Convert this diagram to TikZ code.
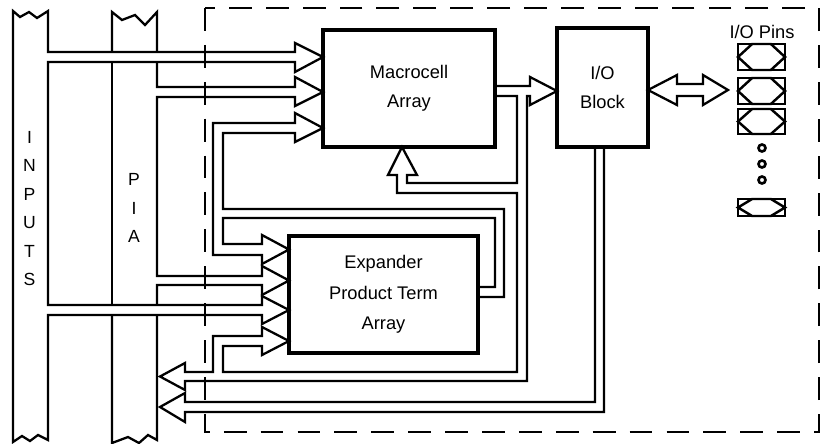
\documentclass[tikz,border=0pt]{standalone}
\usepackage{fontspec}
\setmainfont{Liberation Sans}
\usetikzlibrary{positioning}
\usetikzlibrary{calc}

\begin{document}
\begin{tikzpicture}[x=0.02cm,y=-0.02cm,line join=miter,
  bus/.style={line width=1.3pt},
  block/.style={draw,line width=2.3pt,outer sep=0pt,inner sep=0pt,align=center,font=\fontsize{10.4}{16.5}\selectfont},
  pin/.style={draw,line width=1.6pt,outer sep=0pt,inner sep=0pt,minimum width=0.94cm},
  pinline/.style={line width=1.4pt},
  iodot/.style={draw,circle,line width=1.5pt,inner sep=0pt,minimum size=0.14cm},
  letters/.style={align=center,font=\fontsize{10}{16.2}\selectfont,inner sep=0pt}]
  \useasboundingbox (0,0) rectangle (825,443);

  \draw[line width=1.2pt,dash pattern=on 13pt off 8pt] (205,8) rectangle (819,432);

  \node[letters] (inputs) at (29.5,208.5) {I\\N\\P\\U\\T\\S};
  \node[letters] (pia) at (134,208) {P\\I\\A};

  \draw[bus] (48,11) -- (37,18) -- (29,12) -- (20,17) -- (13,11) -- (13,442) -- (22,436) -- (30,441) -- (38,435) -- (48,440)
    -- (48,315) -- (262,315) -- (262,324) -- (289,310) -- (262,296) -- (262,305) -- (48,305)
    -- (48,62) -- (295,62) -- (295,72) -- (323,57) -- (295,43) -- (295,52) -- (48,52) -- cycle;

  \draw[bus] (112,52) -- (112,12) -- (122,20) -- (135,15) -- (145,25) -- (157,12) -- (157,52);
  \draw[bus] (112,62) -- (112,305);
  \draw[bus] (157,62) -- (157,87) -- (295,87) -- (295,77) -- (323,92) -- (295,106) -- (295,97) -- (157,97)
    -- (157,276) -- (262,276) -- (262,266) -- (289,280.5) -- (262,295) -- (262,285) -- (157,285) -- (157,305);
  \draw[bus] (112,315) -- (112,443) -- (128,437) -- (139,443) -- (148,435) -- (157,440) -- (157,315);

  \draw[bus] (478,297) -- (504,297) -- (504,209) -- (223,209) -- (223,133) -- (295,133) -- (295,142) -- (323,128)
    -- (295,113) -- (295,123) -- (213,123) -- (213,255) -- (262,255) -- (262,264) -- (289,249.5) -- (262,235)
    -- (262,244) -- (223,244) -- (223,218) -- (495,218) -- (495,287) -- (478,287);

  \draw[bus] (495,86) -- (530,86) -- (530,77) -- (557,91) -- (530,105) -- (530,96) -- (527,96) -- (527,381)
    -- (185,381) -- (185,390) -- (160,376.5) -- (185,363) -- (185,372) -- (213,372) -- (213,336) -- (262,336)
    -- (262,327) -- (289,341) -- (262,355) -- (262,346) -- (223,346) -- (223,372) -- (517,372) -- (517,193)
    -- (397,193) -- (397,175) -- (388,175) -- (402,147) -- (417,175) -- (407,175) -- (407,183) -- (517,183)
    -- (517,96) -- (495,96);

  \draw[bus] (595,147) -- (595,402) -- (185,402) -- (185,393) -- (160,407) -- (185,422) -- (185,412) -- (604,412) -- (604,147);

  \draw[bus] (648,90) -- (677,75) -- (677,84) -- (703,84) -- (703,75) -- (728,90) -- (703,105) -- (703,96)
    -- (677,96) -- (677,105) -- cycle;

  \node[block,minimum width=3.44cm,minimum height=2.34cm] (macro) at (409,88.5) {Macrocell\\Array};
  \node[block,minimum width=1.82cm,minimum height=2.38cm] (io) at (602.5,87.5) {I/O\\Block};
  \node[block,minimum width=3.78cm,minimum height=2.34cm,font=\fontsize{10.4}{17.5}\selectfont] (exp) at (383.5,294.5) {Expander\\Product Term\\Array};

  \node[inner sep=0pt,font=\fontsize{10.4}{12}\selectfont] (pinlabel) at (762,32) {I/O Pins};
  \foreach \n/\y/\h in {1/57/26,2/91/26,3/121.5/25,4/207.5/17} {
    \node[pin,minimum height=\h*0.02cm] (pin\n) at (761.5,\y) {};
    \draw[pinline] (pin\n.west) -- ($(pin\n.north west)!.3!(pin\n.north east)$) -- ($(pin\n.north west)!.7!(pin\n.north east)$)
      -- (pin\n.east) -- ($(pin\n.south west)!.7!(pin\n.south east)$) -- ($(pin\n.south west)!.3!(pin\n.south east)$) -- cycle;
  }
  \foreach \y [count=\i] in {148,164,180}
    \node[iodot] (dot\i) at (762,\y) {};
\end{tikzpicture}
\end{document}
